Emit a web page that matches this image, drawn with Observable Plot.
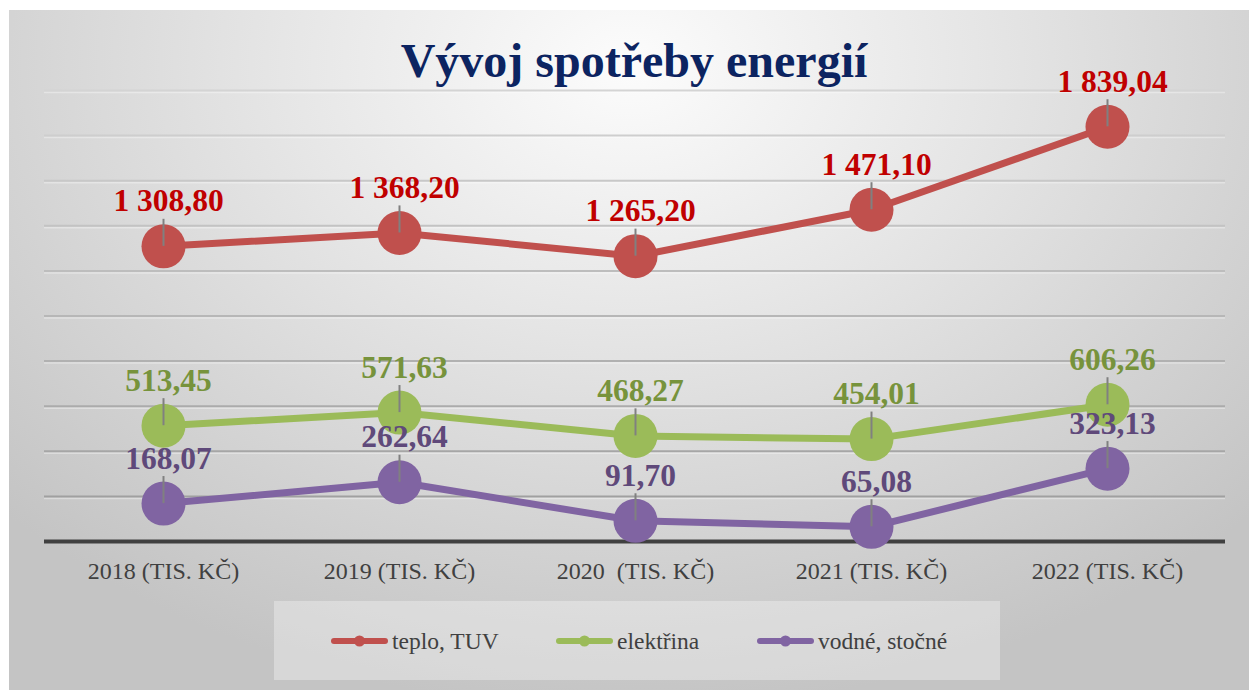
<!DOCTYPE html>
<html>
<head>
<meta charset="utf-8">
<script src="https://cdn.jsdelivr.net/npm/d3@7"></script>
<script src="https://cdn.jsdelivr.net/npm/@observablehq/plot@0.6"></script>
<style>
  html, body { margin: 0; padding: 0; background: #ffffff; }
  #page { position: relative; width: 1249px; height: 690px; overflow: hidden; background: #ffffff; }
  #frame {
    position: absolute; left: 9px; top: 10px; width: 1240px; height: 680px;
    background: radial-gradient(ellipse 70% 95% at 50% 8%, #fcfcfc 0%, #e6e6e6 40%, #d2d2d2 75%, #c4c4c4 100%);
  }
  #chart { position: absolute; left: 0; top: 0; }
  #chart svg text { font-family: 'Liberation Serif', 'Times New Roman', serif; }
  #title {
    position: absolute; left: 5px; top: 27px; width: 1240px; text-align: center;
    font-family: 'Liberation Serif', 'Times New Roman', serif; font-weight: bold;
    font-size: 48px; line-height: 48px; color: #0c2461; margin: 0;
  }
  #legend {
    position: absolute; left: 265px; top: 591px; width: 726px; height: 79px;
    background: rgba(255,255,255,0.32);
    font-family: 'Liberation Serif', 'Times New Roman', serif; font-size: 23.5px; color: #404040;
  }
  .item { position: absolute; top: 28px; height: 24px; display: flex; align-items: center; white-space: nowrap; }
  .item span { font-family: 'Liberation Serif', 'Times New Roman', serif; }
  .item svg { margin-right: 4px; }
</style>
</head>
<body>
<div id="page">
  <div id="frame">
    <div id="chart"></div>
    <h1 id="title">Vývoj spotřeby energií</h1>
    <div id="legend"></div>
  </div>
</div>
<script>
// ---- data ----
const years = ["2018 (TIS. KČ)", "2019 (TIS. KČ)", "2020\u00a0 (TIS. KČ)", "2021 (TIS. KČ)", "2022 (TIS. KČ)"];
const seriesNames = ["teplo, TUV", "elektřina", "vodné, stočné"];
const teplo = [1308.80, 1368.20, 1265.20, 1471.10, 1839.04];
const elektrina = [513.45, 571.63, 468.27, 454.01, 606.26];
const vodne = [168.07, 262.64, 91.70, 65.08, 323.13];
const gridValues = [200, 400, 600, 800, 1000, 1200, 1400, 1600, 1800, 2000];

// ---- styles ----
const serif = "'Liberation Serif', 'Times New Roman', serif";
const lineColors = ["#C0504D", "#9BBB59", "#8064A2"];
const labelColors = ["#C00000", "#77933C", "#5F497A"];

const seriesValues = [teplo, elektrina, vodne];
const rows = seriesValues.map((vals, s) => years.map((year, i) => ({year, value: vals[i], series: seriesNames[s]})));

const czLocale = d3.formatLocale({decimal: ",", thousands: " ", grouping: [3], currency: ["", ""]});
const fmt = czLocale.format(",.2f");

const gridColor = d3.interpolateRgb("#9a9a9a", "#d4d4d4");

const marks = [
  Plot.ruleY(gridValues, {stroke: d => gridColor(d / 2000), strokeWidth: 2}),
  Plot.ruleY(gridValues, {stroke: "#ffffff", strokeOpacity: 0.35, strokeWidth: 1.5, dy: 2}),
  Plot.ruleY([0], {stroke: "#404040", strokeWidth: 4})
];
rows.forEach((data, s) => {
  marks.push(Plot.line(data, {x: "year", y: "value", stroke: lineColors[s], strokeWidth: 7}));
});
rows.forEach((data, s) => {
  marks.push(Plot.dot(data, {x: "year", y: "value", r: 22, fill: lineColors[s], stroke: null}));
  marks.push(Plot.ruleX(data, {x: "year", y1: "value", y2: d => d.value + 120, stroke: "#808080", strokeWidth: 2}));
});
rows.forEach((data, s) => {
  marks.push(Plot.text(data, {
    x: "year", y: "value", text: d => fmt(d.value), dy: -45, dx: 5,
    fill: labelColors[s], fontSize: 31.5, fontWeight: "bold", fontFamily: serif
  }));
});
const hasAxisMark = typeof Plot.axisX === "function";
if (hasAxisMark) {
  marks.push(Plot.axisX({tickSize: 0, tickPadding: 20, label: null, fontFamily: serif, fontSize: 24, fill: "#404040"}));
}

const chart = Plot.plot({
  width: 1240,
  height: 590,
  marginLeft: 35,
  marginRight: 24,
  marginTop: 80,
  marginBottom: 59,
  style: {background: "transparent", fontFamily: serif, fontSize: "24px", color: "#404040", overflow: "visible"},
  x: hasAxisMark
    ? {type: "point", domain: years, padding: 0.5}
    : {type: "point", domain: years, padding: 0.5, tickSize: 0, tickPadding: 20, label: null},
  y: {domain: [0, 2000], axis: null},
  marks
});
document.getElementById("chart").appendChild(chart);

// ---- legend ----
const legend = document.getElementById("legend");
const itemLefts = [57, 282, 483];
seriesNames.forEach((name, s) => {
  const div = document.createElement("div");
  div.className = "item";
  div.style.left = itemLefts[s] + "px";
  div.innerHTML = `<svg width="57" height="14"><line x1="3" y1="7" x2="54" y2="7" stroke="${lineColors[s]}" stroke-width="6" stroke-linecap="round"/><circle cx="28.5" cy="7" r="5.5" fill="${lineColors[s]}"/></svg><span>${name}</span>`;
  legend.appendChild(div);
});
</script>
</body>
</html>
